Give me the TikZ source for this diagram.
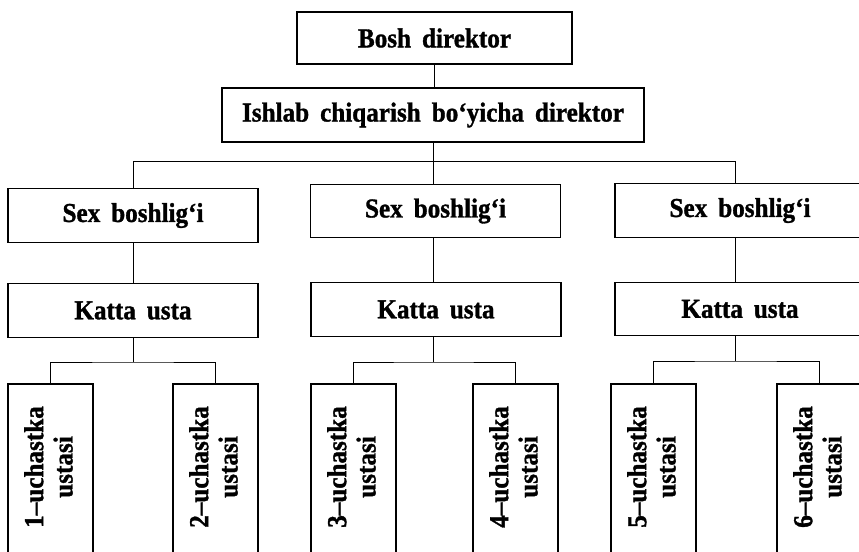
\documentclass[tikz,border=0pt]{standalone}
\usepackage{fontspec}
\setmainfont{Liberation Serif}[WordSpace=1.75, FakeStretch=0.92, BoldFeatures={FakeBold=1.2}]
\begin{document}
\begin{tikzpicture}[x=0.75pt,y=-0.75pt,
  box/.style={draw, line width=0.85pt, inner sep=0pt, align=center,
    font=\bfseries\fontsize{20.5}{23}\selectfont},
  wbox/.style={box, minimum width=187.5pt, minimum height=40pt},
  slim/.style={draw, line width=0.85pt, inner sep=0pt,
    minimum width=63.75pt, minimum height=150pt},
  vlabel/.style={rotate=90, align=center, inner sep=0pt,
    font=\bfseries\fontsize{20.5}{22}\selectfont},
  link/.style={line width=0.75pt}]
\useasboundingbox (0,0) rectangle (859,552);
\clip (0,0) rectangle (859,552);

% column axes
\coordinate (axL) at (133,0);
\coordinate (axM) at (433,0);
\coordinate (axR) at (735,0);

% top levels
\node[box, minimum width=206.25pt, minimum height=39pt] (boss) at (434.5,38) {Bosh direktor};
\node[box, minimum width=316.5pt, minimum height=40.5pt] (prod) at (433,115) {Ishlab chiqarish bo‘yicha direktor};

% shop heads
\node[wbox] (sexL) at (133,215.5) {Sex boshlig‘i};
\node[wbox] (sexM) at (435.5,211) {Sex boshlig‘i};
\node[wbox] (sexR) at (740,210.5) {Sex boshlig‘i};

% senior masters
\node[wbox] (katL) at (133,310.5) {Katta usta};
\node[wbox] (katM) at (436,309.5) {Katta usta};
\node[wbox] (katR) at (740,309) {Katta usta};

% section masters
\foreach \n/\cx in {1/50.5, 2/215.5, 3/353.5, 4/515.5, 5/653.5, 6/819.5}{
  \node[slim] (u\n) at (\cx,484) {};
  \node[vlabel] (t\n) at (\cx-2,467) {\n–uchastka\\ustasi};
}

% connectors
\coordinate (bus) at (433,162);
\draw[link] (boss.south) -- (boss.south |- prod.north);
\draw[link] (prod.south -| axM) -- (bus);
\draw[link] (bus) -| (sexL.north -| axL);
\draw[link] (bus) -| (sexR.north -| axR);
\draw[link] (bus) -- (sexM.north -| axM);

\draw[link] (sexL.south -| axL) -- (katL.north -| axL);
\draw[link] (sexM.south -| axM) -- (katM.north -| axM);
\draw[link] (sexR.south -| axR) -- (katR.north -| axR);

\coordinate (jL) at (133,362);
\coordinate (jM) at (433,362);
\coordinate (jR) at (735,361);
\draw[link] (katL.south -| axL) -- (jL);
\draw[link] (katM.south -| axM) -- (jM);
\draw[link] (katR.south -| axR) -- (jR);
\draw[link] (u1.north) |- (jL) -| (u2.north);
\draw[link] (u3.north) |- (jM) -| (u4.north);
\draw[link] (u5.north) |- (jR) -| (u6.north);
\end{tikzpicture}
\end{document}
